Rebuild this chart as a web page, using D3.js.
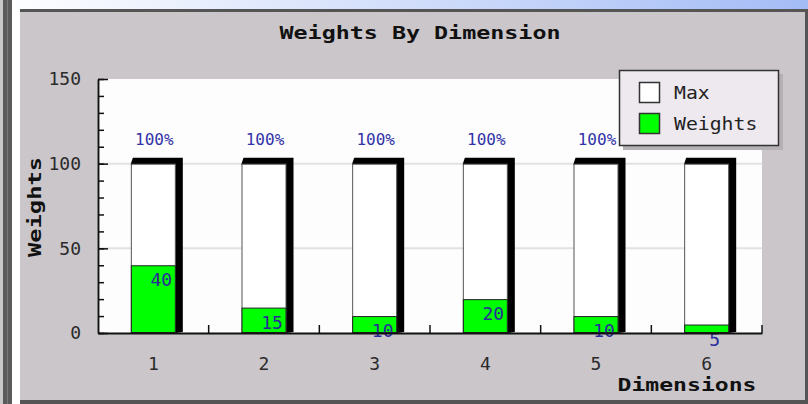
<!DOCTYPE html>
<html>
<head>
<meta charset="utf-8">
<script src="https://cdn.jsdelivr.net/npm/d3@7"></script>
<style>
  html, body { margin: 0; padding: 0; background: #ffffff; }
  svg { display: block; }
</style>
</head>
<body>
<div id="chart"></div>
<script>
// Chart data
const dimensions = ["1", "2", "3", "4", "5", "6"];
const maxValues = [100, 100, 100, 100, 100, 100];
const weightValues = [40, 15, 10, 20, 10, 5];
const percentLabels = ["100%", "100%", "100%", "100%", "100%", "100%"];
const yTicks = [0, 50, 100, 150];
const legendItems = ["Max", "Weights"];

const W = 808, H = 404;
const FONT = "'DejaVu Sans Mono', 'Liberation Mono', monospace";
const plot = { left: 98, right: 762, top: 79, bottom: 333 };
const depth = { dx: 7, dy: 6 };

const svg = d3.select("#chart").append("svg")
    .attr("width", W)
    .attr("height", H);

// Window chrome
const defs = svg.append("defs");
const topGrad = defs.append("linearGradient")
    .attr("id", "top-grad")
    .attr("x1", "0%").attr("x2", "100%");
topGrad.append("stop").attr("offset", "0%").attr("stop-color", "#ffffff");
topGrad.append("stop").attr("offset", "100%").attr("stop-color", "#a4bcf6");

svg.append("rect").attr("width", W).attr("height", 10).attr("fill", "url(#top-grad)");
svg.append("rect").attr("x", 0).attr("y", 0).attr("width", 3).attr("height", H).attr("fill", "#c8c8c8");
svg.append("rect").attr("x", 3).attr("y", 0).attr("width", 9).attr("height", H).attr("fill", "#5a5a5a");
svg.append("rect").attr("x", 7).attr("y", 0).attr("width", 1).attr("height", H).attr("fill", "#7a7a7a");

// Panel
svg.append("rect")
    .attr("x", 20).attr("y", 9)
    .attr("width", 787).attr("height", 393)
    .attr("fill", "#cac6ca");
svg.append("rect").attr("x", 20).attr("y", 9).attr("width", 788).attr("height", 3).attr("fill", "#555555");
svg.append("rect").attr("x", 805).attr("y", 9).attr("width", 3).attr("height", H).attr("fill", "#555555");
svg.append("rect").attr("x", 20).attr("y", 400).attr("width", 788).attr("height", 4).attr("fill", "#555555");

// Title
svg.append("text")
    .attr("x", 420).attr("y", 39)
    .attr("text-anchor", "middle")
    .attr("font-family", FONT)
    .attr("font-size", "18px")
    .attr("font-weight", "bold")
    .attr("fill", "#111")
    .attr("textLength", 281)
    .attr("lengthAdjust", "spacingAndGlyphs")
    .text("Weights By Dimension");

// Scales
const x = d3.scaleBand()
    .domain(dimensions)
    .range([plot.left, plot.right])
    .paddingInner(0).paddingOuter(0);

const y = d3.scaleLinear()
    .domain([0, 150])
    .range([plot.bottom, plot.top]);

const barW = 45;

// Plot background
svg.append("rect")
    .attr("x", plot.left).attr("y", plot.top)
    .attr("width", plot.right - plot.left)
    .attr("height", plot.bottom - plot.top)
    .attr("fill", "#fdfdfd");

// Grid lines
svg.append("g")
    .selectAll("line")
    .data([50, 100])
    .enter().append("line")
    .attr("x1", plot.left).attr("x2", plot.right)
    .attr("y1", d => y(d)).attr("y2", d => y(d))
    .attr("stroke", "#e2e2e2")
    .attr("stroke-width", 2);

// Bars
const bars = svg.append("g");
dimensions.forEach((d, i) => {
    const cx = x(d) + x.bandwidth() / 2;
    const bx = cx - barW / 2;
    const top = y(maxValues[i]);
    const base = y(0);

    // 3D shadow
    bars.append("polygon")
        .attr("points", [
            [bx, top], [bx + 2, top - depth.dy],
            [bx + barW + depth.dx, top - depth.dy],
            [bx + barW + depth.dx, base - 1], [bx + barW, base]
        ].map(p => p.join(",")).join(" "))
        .attr("fill", "#000");

    // Max bar
    bars.append("rect")
        .attr("x", bx + 0.5).attr("y", top + 0.5)
        .attr("width", barW - 1).attr("height", base - top - 1)
        .attr("fill", "#ffffff")
        .attr("stroke", "#555")
        .attr("stroke-width", 1);

    // Weights bar
    const wt = y(weightValues[i]);
    bars.append("rect")
        .attr("x", bx + 0.5).attr("y", wt + 0.5)
        .attr("width", barW - 1).attr("height", base - wt - 1)
        .attr("fill", "#00ff00")
        .attr("stroke", "#222")
        .attr("stroke-width", 1);

    // Percent label
    bars.append("text")
        .attr("x", cx + 1).attr("y", top - 19)
        .attr("text-anchor", "middle")
        .attr("font-family", FONT)
        .attr("font-size", "16px")
        .attr("fill", "#3232a8")
        .text(percentLabels[i]);

    // Value label
    bars.append("text")
        .attr("x", cx + 8).attr("y", wt + 21)
        .attr("text-anchor", "middle")
        .attr("font-family", FONT)
        .attr("font-size", "18px")
        .attr("fill", "#2a2a9c")
        .text(weightValues[i]);
});

// Y axis: minor ticks
svg.append("g")
    .attr("transform", `translate(${plot.left},0)`)
    .call(d3.axisLeft(y).ticks(15).tickSizeInner(-6).tickSizeOuter(0).tickFormat(""))
    .call(g => g.selectAll("line,path").attr("stroke", "#111").attr("stroke-width", 1.5));

// Y axis: major ticks with labels
svg.append("g")
    .attr("transform", `translate(${plot.left},0)`)
    .call(d3.axisLeft(y).tickValues(yTicks).tickSizeInner(-10).tickSizeOuter(0).tickPadding(17))
    .call(g => g.selectAll("line,path").attr("stroke", "#111").attr("stroke-width", 1.5))
    .call(g => g.selectAll("text")
        .attr("font-family", FONT)
        .attr("font-size", "18px")
        .attr("fill", "#2a2a2a"));

// X axis
svg.append("g")
    .attr("transform", `translate(0,${plot.bottom})`)
    .call(d3.axisBottom(x).tickSize(0).tickPadding(24))
    .call(g => g.select("path").attr("stroke", "#111").attr("stroke-width", 2))
    .call(g => g.selectAll("text")
        .attr("font-family", FONT)
        .attr("font-size", "18px")
        .attr("fill", "#2a2a2a"));

svg.append("g")
    .selectAll("line")
    .data(dimensions)
    .enter().append("line")
    .attr("x1", d => x(d) + x.bandwidth()).attr("x2", d => x(d) + x.bandwidth())
    .attr("y1", plot.bottom).attr("y2", plot.bottom - 8)
    .attr("stroke", "#111")
    .attr("stroke-width", 1.5);

// Axis titles
svg.append("text")
    .attr("transform", "translate(41,207) rotate(-90)")
    .attr("text-anchor", "middle")
    .attr("font-family", FONT)
    .attr("font-size", "18px")
    .attr("font-weight", "bold")
    .attr("fill", "#111")
    .attr("textLength", 100)
    .attr("lengthAdjust", "spacingAndGlyphs")
    .text("Weights");

svg.append("text")
    .attr("x", 687).attr("y", 391)
    .attr("text-anchor", "middle")
    .attr("font-family", FONT)
    .attr("font-size", "18px")
    .attr("font-weight", "bold")
    .attr("fill", "#111")
    .attr("textLength", 139)
    .attr("lengthAdjust", "spacingAndGlyphs")
    .text("Dimensions");

// Legend (drawn over the last percent label, as in the reference)
const legend = svg.append("g");
legend.append("rect")
    .attr("x", 623).attr("y", 74)
    .attr("width", 160).attr("height", 76)
    .attr("fill", "#b4b0b4");
legend.append("rect")
    .attr("x", 619.5).attr("y", 70.5)
    .attr("width", 159).attr("height", 75)
    .attr("fill", "#ede9ef")
    .attr("stroke", "#333")
    .attr("stroke-width", 1.5);

const legendFill = ["#ffffff", "#00ff00"];
legendItems.forEach((name, i) => {
    const ly = 82 + i * 31;
    legend.append("rect")
        .attr("x", 639.5).attr("y", ly + 0.5)
        .attr("width", 20).attr("height", 20)
        .attr("fill", legendFill[i])
        .attr("stroke", "#333")
        .attr("stroke-width", 1.5);
    legend.append("text")
        .attr("x", 674).attr("y", ly + 17)
        .attr("font-family", FONT)
        .attr("font-size", "18px")
        .attr("fill", "#222")
        .attr("textLength", name.length * 11.9)
        .attr("lengthAdjust", "spacingAndGlyphs")
        .text(name);
});
</script>
</body>
</html>
